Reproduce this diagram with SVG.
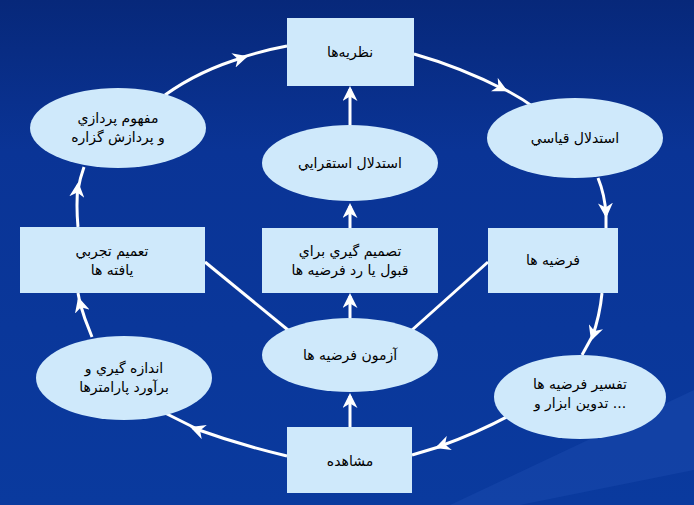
<svg xmlns="http://www.w3.org/2000/svg" width="694" height="505" viewBox="0 0 694 505">
<defs>
<linearGradient id="bg" x1="0" y1="0" x2="0" y2="1"><stop offset="0" stop-color="#07287a"/><stop offset="0.3" stop-color="#0a3496"/><stop offset="1" stop-color="#0a3a9e"/></linearGradient>
<marker id="ah" viewBox="0 0 10 10" refX="8" refY="5" markerWidth="5" markerHeight="5" orient="auto" markerUnits="strokeWidth"><path d="M0,0 L10,5 L0,10 L3,5 Z" fill="#fff"/></marker>
<style>
.n{fill:#cfe9fb}
.t{font-family:"DejaVu Sans",sans-serif;font-size:14px;fill:#000;text-anchor:middle}
.c{fill:none;stroke:#fff;stroke-width:3}
</style>
</defs>
<rect width="694" height="505" fill="url(#bg)"/>
<path d="M694,390 L694,470 L520,505 L450,505 Z" fill="#1a4aae" opacity="0.5"/>
<g id="connectors">
<path class="c" d="M165,95 Q200,70 245,57" marker-end="url(#ah)"/><path class="c" d="M240,58 Q265,50 287,46"/>
<path class="c" d="M414,54 Q460,67 505,90" marker-end="url(#ah)"/><path class="c" d="M500,87 Q520,97 535,108"/>
<path class="c" d="M598,178 Q605,195 606,215" marker-end="url(#ah)"/><path class="c" d="M606,212 L606,228"/>
<path class="c" d="M602,293 Q600,315 592,338" marker-end="url(#ah)"/><path class="c" d="M593,335 L582,355"/>
<path class="c" d="M516,412 Q480,432 438,447" marker-end="url(#ah)"/><path class="c" d="M442,446 L412,455"/>
<path class="c" d="M287,456 Q240,445 193,428" marker-end="url(#ah)"/><path class="c" d="M197,429 L165,413"/>
<path class="c" d="M92,337 Q84,318 79,300" marker-end="url(#ah)"/><path class="c" d="M80,303 L78,293"/>
<path class="c" d="M78,227 Q76,205 78,185" marker-end="url(#ah)"/><path class="c" d="M78,190 Q80,178 84,167"/>
<path class="c" d="M350,126 L350,89" marker-end="url(#ah)"/>
<path class="c" d="M350,228 L350,206" marker-end="url(#ah)"/>
<path class="c" d="M350,318 L350,296" marker-end="url(#ah)"/>
<path class="c" d="M350,427 L350,396" marker-end="url(#ah)"/>
<path class="c" d="M205,262 L288,330"/>
<path class="c" d="M488,262 L412,330"/>
</g>
<g id="n1"><rect class="n" x="287" y="18" width="127" height="68"/><text class="t" x="350" y="57">نظریه‌ها</text></g>
<g id="n2"><ellipse class="n" cx="575" cy="138" rx="88" ry="40"/><text class="t" x="575" y="143">استدلال قياسي</text></g>
<g id="n3"><rect class="n" x="488" y="228" width="130" height="65"/><text class="t" x="553" y="265">فرضيه ها</text></g>
<g id="n4"><ellipse class="n" cx="580" cy="397" rx="86" ry="42"/><text class="t" x="580" y="389">تفسير فرضيه ها</text><text class="t" x="580" y="408">تدوين ابزار و ...</text></g>
<g id="n5"><rect class="n" x="287" y="427" width="125" height="66"/><text class="t" x="350" y="466">مشاهده</text></g>
<g id="n6"><ellipse class="n" cx="124" cy="378" rx="88" ry="42"/><text class="t" x="124" y="373">اندازه گيري و</text><text class="t" x="124" y="392">برآورد پارامترها</text></g>
<g id="n7"><rect class="n" x="20" y="227" width="185" height="66"/><text class="t" x="112" y="256">تعميم تجربي</text><text class="t" x="112" y="275">يافته ها</text></g>
<g id="n8"><ellipse class="n" cx="118" cy="128" rx="88" ry="40"/><text class="t" x="118" y="123">مفهوم پردازي</text><text class="t" x="118" y="142">و پردازش گزاره</text></g>
<g id="n9"><ellipse class="n" cx="350" cy="163" rx="88" ry="38"/><text class="t" x="350" y="168">استدلال استقرايي</text></g>
<g id="n10"><rect class="n" x="262" y="228" width="176" height="65"/><text class="t" x="350" y="256">تصميم گيري براي</text><text class="t" x="350" y="275">قبول يا رد فرضيه ها</text></g>
<g id="n11"><ellipse class="n" cx="350" cy="355" rx="88" ry="37"/><text class="t" x="350" y="360">آزمون فرضيه ها</text></g>
</svg>
